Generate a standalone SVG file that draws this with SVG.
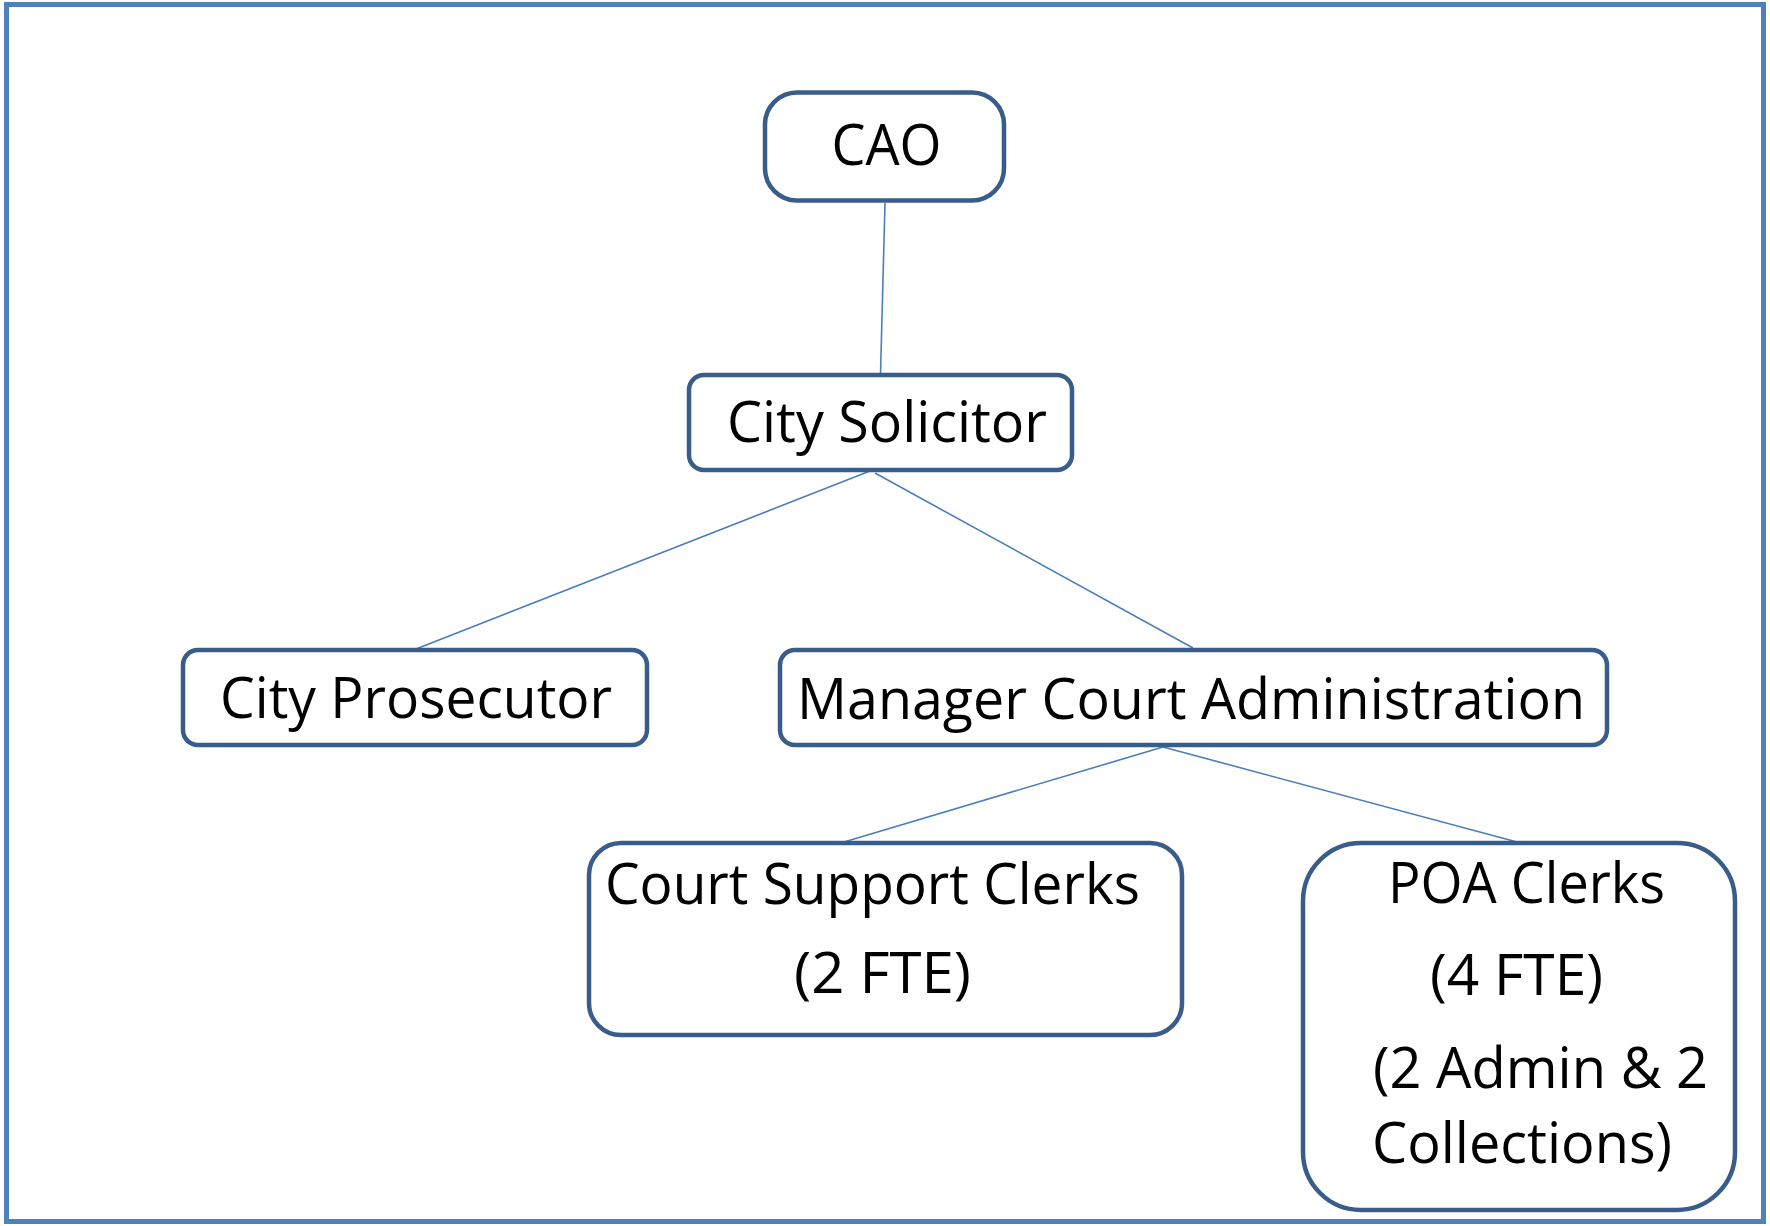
<svg xmlns="http://www.w3.org/2000/svg" width="1770" height="1226" viewBox="0 0 1770 1226">
<style>
.box{fill:#fff;stroke:#385D8A;stroke-width:4.5}
.lbl{font-family:"Open Sans","Noto Sans","Liberation Sans",sans-serif;font-size:56px;fill:#000}
.conn{stroke:#4A7EBB;stroke-width:1.6;fill:none}
</style>
<rect x="6.5" y="4.5" width="1757" height="1217" fill="#fff" stroke="#4F81BD" stroke-width="5"/>
<g id="connectors">
<line class="conn" x1="885" y1="203" x2="880.5" y2="374"/>
<line class="conn" x1="870" y1="471" x2="416" y2="649"/>
<line class="conn" x1="875" y1="473" x2="1193" y2="648"/>
<line class="conn" x1="1163" y1="747" x2="844" y2="842"/>
<line class="conn" x1="1163" y1="747" x2="1517" y2="842"/>
</g>
<g id="cao">
<rect class="box" x="765" y="92.5" width="239" height="108" rx="32"/>
<text class="lbl" x="831.5" y="165" textLength="110" lengthAdjust="spacingAndGlyphs">CAO</text>
</g>
<g id="city-solicitor">
<rect class="box" x="689" y="375" width="383" height="95" rx="15"/>
<text class="lbl" x="727" y="441.5" textLength="320" lengthAdjust="spacingAndGlyphs">City Solicitor</text>
</g>
<g id="city-prosecutor">
<rect class="box" x="183" y="650" width="464" height="95" rx="15"/>
<text class="lbl" x="220" y="718" textLength="392" lengthAdjust="spacingAndGlyphs">City Prosecutor</text>
</g>
<g id="manager-court-administration">
<rect class="box" x="780" y="650" width="827" height="95" rx="15"/>
<text class="lbl" x="797" y="719" textLength="788" lengthAdjust="spacingAndGlyphs">Manager Court Administration</text>
</g>
<g id="court-support-clerks">
<rect class="box" x="589" y="843" width="593" height="192" rx="32"/>
<text class="lbl" x="605" y="904" textLength="535" lengthAdjust="spacingAndGlyphs">Court Support Clerks</text>
<text class="lbl" x="794" y="993" textLength="177" lengthAdjust="spacingAndGlyphs">(2 FTE)</text>
</g>
<g id="poa-clerks">
<rect class="box" x="1303" y="843" width="432" height="367" rx="58"/>
<text class="lbl" x="1388" y="903" textLength="277" lengthAdjust="spacingAndGlyphs">POA Clerks</text>
<text class="lbl" x="1430" y="995" textLength="173" lengthAdjust="spacingAndGlyphs">(4 FTE)</text>
<text class="lbl" x="1373" y="1088" textLength="335" lengthAdjust="spacingAndGlyphs">(2 Admin &amp; 2</text>
<text class="lbl" x="1372" y="1163" textLength="300" lengthAdjust="spacingAndGlyphs">Collections)</text>
</g>
</svg>
